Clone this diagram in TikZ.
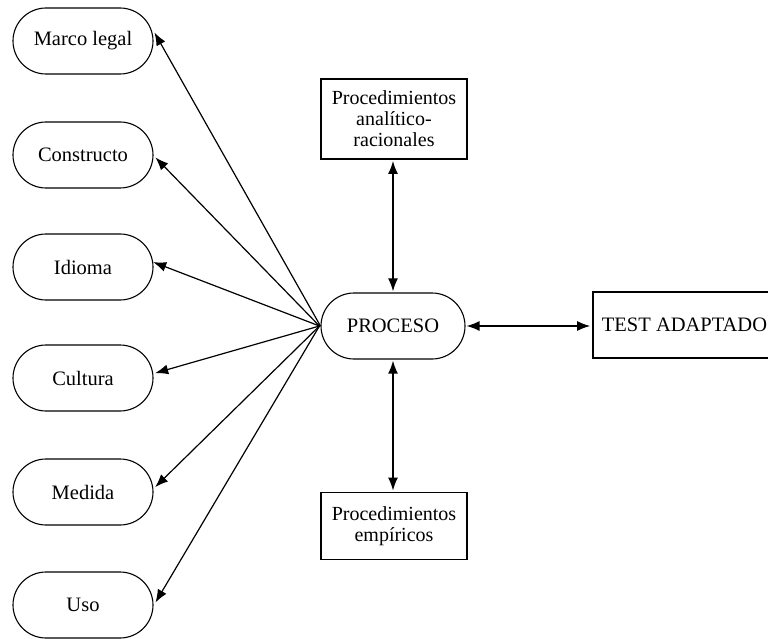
\documentclass[tikz,border=0pt]{standalone}
\usepackage{fontspec}
\setmainfont{Liberation Serif}
\usetikzlibrary{shapes.misc,arrows.meta}
\begin{document}
\begin{tikzpicture}[x=1pt,y=-1pt,
  stadium/.style={rounded rectangle, draw, line width=1.1pt, minimum width=140pt, minimum height=66pt, inner sep=0pt, font=\fontsize{20.5}{21.5}\selectfont},
  boxnode/.style={rectangle, draw, line width=1.7pt, align=center, inner sep=0pt, font=\fontsize{20}{21}\selectfont},
  tipstyle/.style={line width=1.2pt},
  arr/.style={tipstyle, -{Latex[length=13pt,width=10pt]}},
  darr/.style={line width=1.6pt, {Latex[length=13pt,width=10pt]}-{Latex[length=13pt,width=10pt]}}]
\useasboundingbox (0,0) rectangle (768,639);

\node[stadium] (marco) at (83,41) {Marco legal};
\node[stadium] (cons) at (83,155) {Constructo};
\node[stadium] (idioma) at (83,267) {Idioma};
\node[stadium] (cultura) at (83,378) {Cultura};
\node[stadium] (medida) at (83,492) {Medida};
\node[stadium] (uso) at (83,605) {Uso};

\node[stadium, minimum width=144pt] (proc) at (393,326) {PROCESO};
\node[boxnode, minimum width=146pt, minimum height=80pt] (anal) at (394,119) {Procedimientos\\anal\'itico-\\racionales};
\node[boxnode, minimum width=146pt, minimum height=67pt] (emp) at (394,526) {Procedimientos\\emp\'iricos};
\node[boxnode, minimum width=183pt, minimum height=66pt, font=\fontsize{20.5}{21.5}\selectfont] (test) at (684.5,325) {TEST ADAPTADO};

\draw[arr] (proc.west) -- ([xshift=2pt]marco.7);
\draw[arr] ([xshift=-1pt]proc.west) -- ([xshift=2pt]cons.-2);
\draw[arr] ([xshift=-1pt]proc.west) -- ([xshift=0pt]idioma.4);
\draw[arr] ([xshift=-1pt]proc.west) -- ([xshift=2pt]cultura.4);
\draw[arr] ([xshift=-1pt]proc.west) -- ([xshift=2pt]medida.4);
\draw[arr] ([xshift=-1pt]proc.west) -- ([xshift=2pt]uso.2);

\draw[darr, shorten <=1pt, shorten >=1pt] (anal.south -| proc.north) -- (proc.north);
\draw[darr, shorten <=1pt, shorten >=1pt] (proc.south) -- (emp.north -| proc.south);
\draw[darr, line width=1.3pt, shorten <=1pt, shorten >=2pt] (proc.east) -- (test.west |- proc.east);
\end{tikzpicture}
\end{document}
